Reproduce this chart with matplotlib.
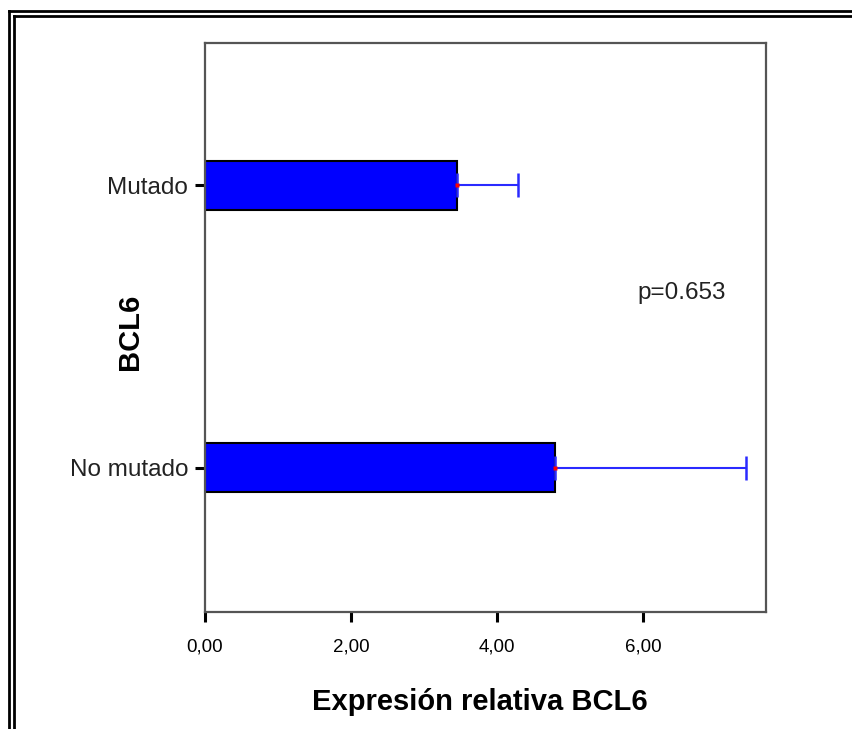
import matplotlib
matplotlib.use("Agg")
import matplotlib.pyplot as plt
from matplotlib.lines import Line2D

# Relative BCL6 expression by mutation status (mean with upper error)
categories = ["No mutado", "Mutado"]
means = [4.79, 3.45]
upper_err = [2.61, 0.84]
xticks = [0, 2, 4, 6]
xtick_labels = ["0,00", "2,00", "4,00", "6,00"]
p_text = "p=0.653"

W, H = 852, 729
fig = plt.figure(figsize=(W / 100, H / 100), dpi=100)
fig.patch.set_facecolor("white")

# double frame around the chart (top and left edges)
def fx(px):
    return px / W

def fy(py):
    return 1 - py / H

for off in (9.5, 14.5):
    fig.add_artist(Line2D([fx(off - 1), 1.0], [fy(off + 1), fy(off + 1)],
                          transform=fig.transFigure, color="black", lw=2.0))
    fig.add_artist(Line2D([fx(off - 1), fx(off - 1)], [fy(off + 1), 0.0],
                          transform=fig.transFigure, color="black", lw=2.0))

ax = fig.add_axes([205 / W, (H - 612) / H, (766 - 205) / W, (612 - 43) / H])

ypos = list(range(len(categories)))
ax.barh(ypos, means, height=0.173, color="#0000ff", edgecolor="black",
        linewidth=1.5, zorder=2)
ax.errorbar(means, ypos, xerr=[[0] * len(means), upper_err], fmt="none",
            ecolor="#2a2aff", elinewidth=1.5, capsize=8.3, capthick=1.8,
            zorder=3)
ax.plot(means, ypos, "s", color="red", ms=2.2, mec="none", zorder=4)

ax.set_xlim(0, 7.68)
ax.set_ylim(-0.51, 1.504)
ax.set_xticks(xticks)
ax.set_xticklabels(xtick_labels, fontfamily="Liberation Sans", fontsize=13.5)
ax.set_yticks(ypos)
ax.set_yticklabels(categories, fontfamily="Liberation Sans", fontsize=17.5,
                   color="#222222")
ax.tick_params(axis="x", length=7, width=2.2, pad=12, color="black")
ax.tick_params(axis="y", length=7, width=2.2, pad=5, color="black")

for s in ax.spines.values():
    s.set_color("#555555")
    s.set_linewidth(1.6)

ax.set_xlabel("Expresión relativa BCL6", fontfamily="Liberation Sans",
              fontweight="bold", fontsize=21)
ax.set_ylabel("BCL6", fontfamily="Liberation Sans", fontweight="bold",
              fontsize=21)
ax.xaxis.set_label_coords(0.49, -0.158)
ax.yaxis.set_label_coords(-0.134, 0.493)
ax.xaxis.label.set_va("center")
ax.yaxis.label.set_va("center")

ax.text(682 / W, fy(293), p_text, transform=fig.transFigure,
        fontfamily="Liberation Sans", fontsize=17.5, ha="center", va="center",
        color="#222222")

fig.savefig("out.png", dpi=100)
